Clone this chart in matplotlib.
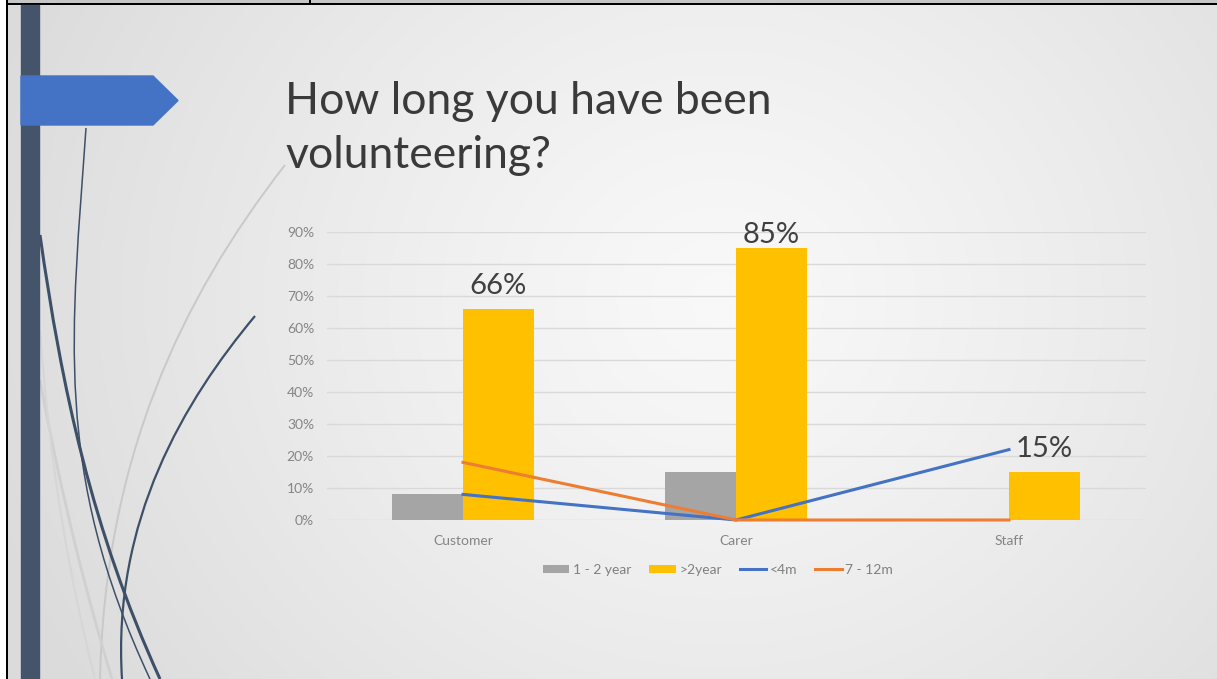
import numpy as np
import matplotlib
matplotlib.use("Agg")
import matplotlib.pyplot as plt
from matplotlib.path import Path
from matplotlib.patches import PathPatch, Polygon, Rectangle

# survey answers, share of respondents per group
groups = ["Customer", "Carer", "Staff"]
one_two_year = [0.08, 0.15, 0.0]
over_two_year = [0.66, 0.85, 0.15]
under_4m = [0.08, 0.0, 0.22]
seven_twelve_m = [0.18, 0.0, 0.0]
series_names = ["1 - 2 year", ">2year", "<4m", "7 - 12m"]
yticks = [0, 0.1, 0.2, 0.3, 0.4, 0.5, 0.6, 0.7, 0.8, 0.9]

W, H = 1217, 679
FONT = ["Lato", "DejaVu Sans"]
plt.rcParams["font.family"] = FONT

fig = plt.figure(figsize=(W / 100, H / 100), dpi=100)
fig.patch.set_facecolor("white")

# slide background pixels: soft radial shading plus the table cell borders
yy, xx = np.mgrid[0:H, 0:W]
d = np.hypot((xx - 720) / 1.0, (yy - 300) / 0.9)
shade = np.clip(0.975 - 0.085 * (d / 600) ** 1.2, 0.86, 0.98)
shade[:, :6] = 1.0
shade[:4, 8:] = 0.78
shade[3:5, 6:] = 0.0
shade[:, 6:8] = 0.0
shade[:4, 309:311] = 0.0
rgb = np.repeat(shade[:, :, None], 3, axis=2)
fig.figimage(rgb[::-1], xo=0, yo=0, origin="lower", zorder=0)

bg = fig.add_axes([0, 0, 1, 1], zorder=1)
bg.set_facecolor("none")
bg.set_xlim(0, W)
bg.set_ylim(H, 0)
bg.axis("off")

# sweeping theme curves
def curve(pts, color, lw):
    path = Path(pts, [Path.MOVETO, Path.CURVE4, Path.CURVE4, Path.CURVE4])
    bg.add_patch(PathPatch(path, fc="none", ec=color, lw=lw, zorder=3))

light = "#c9c9c9"
dark = "#3e4f68"
curve([(285, 165), (180, 300), (105, 460), (100, 679)], light, 1.4)
curve([(40, 380), (62, 500), (88, 600), (112, 679)], "#d0d0d0", 2.0)
curve([(40, 330), (50, 470), (70, 580), (95, 679)], "#d6d6d6", 1.5)
curve([(86, 128), (72, 330), (52, 470), (150, 679)], dark, 1.1)
curve([(40, 235), (62, 390), (92, 530), (160, 679)], dark, 2.2)
curve([(255, 316), (185, 400), (112, 520), (122, 679)], dark, 1.6)

bg.add_patch(Rectangle((21, 5), 18, H - 5, color="#44546a", zorder=4))
bg.add_patch(Polygon([(21, 76), (153, 76), (178, 100.5), (153, 125), (21, 125)],
                     closed=True, color="#4472c4", zorder=5))

bg.text(285, 81, "How long you have been\nvolunteering?", fontsize=32,
        color="#3a3a3a", va="top", ha="left", linespacing=1.38, zorder=6)

# chart area
left, right, top, bottom = 326.5, 1145.5, 232, 520
ax = fig.add_axes([left / W, 1 - bottom / H, (right - left) / W, (bottom - top) / H],
                  zorder=2)
ax.set_facecolor("none")
x = np.arange(len(groups))
bw = 0.26

b1 = ax.bar(x - bw / 2, one_two_year, bw, color="#a5a5a5", zorder=2)
b2 = ax.bar(x + bw / 2, over_two_year, bw, color="#ffc000", zorder=2)
l1, = ax.plot(x, under_4m, color="#4472c4", lw=2.2, zorder=3, clip_on=False)
l2, = ax.plot(x, seven_twelve_m, color="#ed7d31", lw=2.2, zorder=4, clip_on=False)

ax.set_xlim(-0.5, len(groups) - 0.5)
ax.set_ylim(0, 0.9)
ax.set_yticks(yticks)
ax.set_yticklabels(["{:.0f}%".format(t * 100) for t in yticks])
ax.set_xticks(x)
ax.set_xticklabels(groups)
ax.tick_params(length=0, labelsize=10, labelcolor="#858585")
ax.tick_params(axis="y", pad=9)
ax.tick_params(axis="x", pad=11)
ax.grid(axis="y", color="#d9d9d9", lw=1)
ax.set_axisbelow(True)
for s in ax.spines.values():
    s.set_visible(False)

# value labels over the long-standing volunteers
for xi, v in zip(x, over_two_year):
    ax.text(xi + bw / 2, min(v + 0.03, 0.85), "{:.0f}%".format(v * 100),
            ha="center", va="bottom", fontsize=21, color="#404040",
            clip_on=False, zorder=5)

leg = ax.legend([b1, b2, l1, l2], series_names, loc="upper center",
                bbox_to_anchor=(718 / W, 1 - 551 / H), bbox_transform=fig.transFigure,
                ncol=4, frameon=False, fontsize=10, handlelength=1.9,
                handleheight=0.5, handletextpad=0.25, columnspacing=1.3)
for t in leg.get_texts():
    t.set_color("#808080")

fig.savefig("out.png", dpi=100)
